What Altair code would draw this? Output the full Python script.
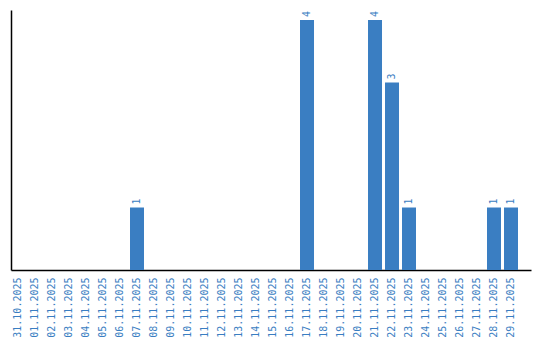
import altair as alt
import pandas as pd

dates = ["31.10.2025", "01.11.2025", "02.11.2025", "03.11.2025", "04.11.2025",
         "05.11.2025", "06.11.2025", "07.11.2025", "08.11.2025", "09.11.2025",
         "10.11.2025", "11.11.2025", "12.11.2025", "13.11.2025", "14.11.2025",
         "15.11.2025", "16.11.2025", "17.11.2025", "18.11.2025", "19.11.2025",
         "20.11.2025", "21.11.2025", "22.11.2025", "23.11.2025", "24.11.2025",
         "25.11.2025", "26.11.2025", "27.11.2025", "28.11.2025", "29.11.2025"]
counts = [0, 0, 0, 0, 0, 0, 0, 1, 0, 0,
          0, 0, 0, 0, 0, 0, 0, 4, 0, 0,
          0, 4, 3, 1, 0, 0, 0, 0, 1, 1]

df = pd.DataFrame({"date": dates, "count": counts})

BLUE = "#3a7ec2"
FONT = "DejaVu Sans Mono"

x = alt.X("date:N", sort=dates,
          scale=alt.Scale(paddingInner=3/17, paddingOuter=0.382, align=0),
          axis=alt.Axis(title=None, labelAngle=-90, labelColor=BLUE, labelFont=FONT,
                        labelFontSize=10, ticks=False, labelPadding=7, grid=False,
                        domainColor="black", domainWidth=1.5))
y = alt.Y("count:Q", scale=alt.Scale(domain=[0, 4.16], nice=False, zero=True),
          axis=alt.Axis(title=None, labels=False, ticks=False, grid=False,
                        domainColor="black", domainWidth=1.5))

bars = alt.Chart(df).mark_bar(color=BLUE).encode(x=x, y=y)
text = alt.Chart(df).transform_filter("datum.count > 0").mark_text(
    angle=270, align="left", baseline="middle", dx=3, color=BLUE, font=FONT, fontSize=10
).encode(x=alt.X("date:N", sort=dates), y="count:Q", text="count:Q")

chart = (bars + text).properties(
    width=520, height=260,
    autosize=alt.AutoSizeParams(type="none"),
    padding={"left": 11, "top": 10, "right": 9, "bottom": 70},
).configure_view(stroke=None)

chart.save("out.html", embed_options={"renderer": "svg", "actions": False})
